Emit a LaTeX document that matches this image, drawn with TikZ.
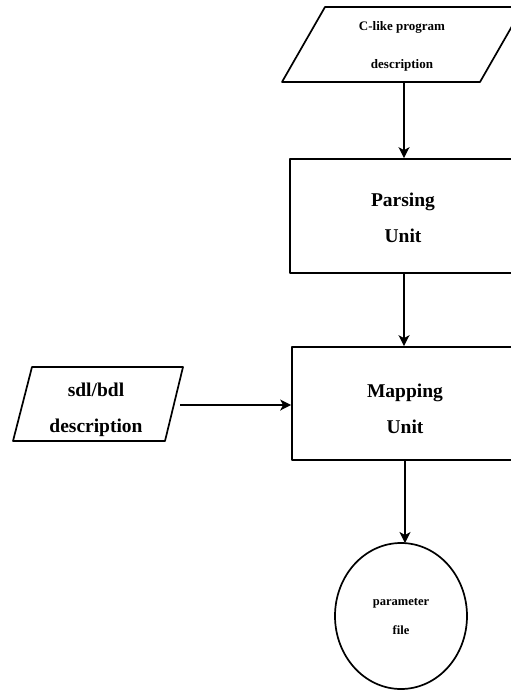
\documentclass[tikz,border=0pt]{standalone}
\usepackage{fontspec}
\setmainfont{Liberation Serif}
\usetikzlibrary{arrows.meta}
\begin{document}
\begin{tikzpicture}[x=1pt,y=-1pt,
  shapeline/.style={line width=1.7pt, line join=round},
  conn/.style={line width=1.6pt, -{Stealth[length=11pt,width=11pt,inset=3pt]}},
  bigtxt/.style={font=\fontsize{19.5}{36}\selectfont\bfseries, align=center},
  smalltxt/.style={font=\fontsize{13}{38}\selectfont\bfseries, align=center},
  midtxt/.style={font=\fontsize{12.5}{29}\selectfont\bfseries, align=center},
  boxnode/.style={shapeline, draw, rectangle, minimum width=226pt, minimum height=114pt, inner sep=0pt}
]
\useasboundingbox (0,0) rectangle (511,691);
\clip (0,0) rectangle (511,691);
\fill[white] (0,0) rectangle (511,691);

% top parallelogram: C-like program description
\draw[shapeline] (325,7) -- (523,7) -- (480,82) -- (282,82) -- cycle;
\node[smalltxt] (cprog) at (402,46) {C-like program\\description};
\coordinate (cprogB) at (404,82);

% Parsing unit
\node[boxnode] (parse) at (403,216) {};
\node[bigtxt] at (403,218) {Parsing\\Unit};

% Mapping unit
\node[boxnode, minimum height=113pt] (map) at (405,403.5) {};
\node[bigtxt] at (405,409) {Mapping\\Unit};

% sdl/bdl parallelogram
\draw[shapeline] (32,367) -- (183,367) -- (165,441) -- (13,441) -- cycle;
\node[bigtxt] (sdl) at (96,410) {sdl/bdl\\description};
\coordinate (sdlR) at (180,405);

% parameter file circle
\draw[shapeline] (401,616) ellipse [x radius=66, y radius=73];
\node[midtxt] (pfile) at (401,617) {parameter\\file};
\coordinate (pfileT) at (405,543);

% connectors
\draw[conn] (cprogB) -- (parse.north -| cprogB);
\draw[conn] (parse.south -| cprogB) -- (map.north -| cprogB);
\draw[conn] (sdlR) -- (map.west |- sdlR);
\draw[conn] (map.south -| pfileT) -- (pfileT);
\end{tikzpicture}
\end{document}
